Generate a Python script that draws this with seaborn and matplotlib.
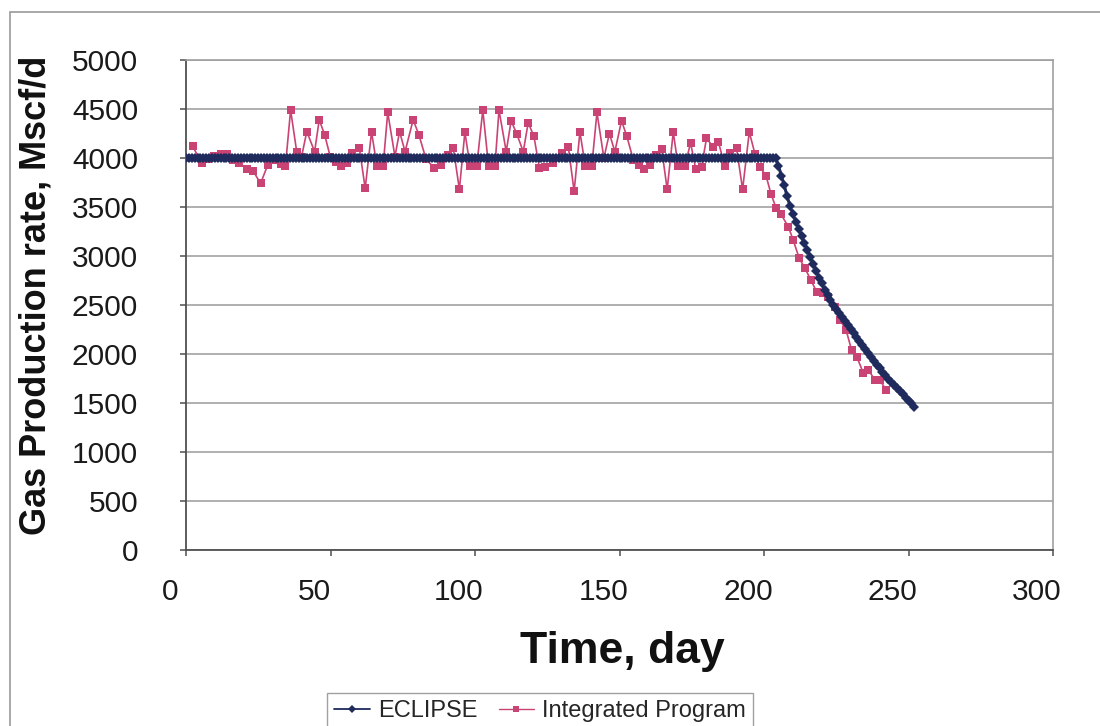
import matplotlib
matplotlib.use("Agg")
import matplotlib.pyplot as plt
import matplotlib.transforms as mtransforms
from matplotlib.patches import Rectangle
from matplotlib.lines import Line2D
import seaborn as sns
import pandas as pd

# ---- data -------------------------------------------------------------
# ECLIPSE simulation: daily gas rate (Mscf/d)
eclipse_days = list(range(0, 253))
eclipse_plateau = [4000] * 205
eclipse_decline = [
    3920, 3820, 3720, 3610, 3510, 3430, 3350, 3280, 3200, 3130,
    3060, 2990, 2920, 2850, 2780, 2720, 2655, 2600, 2550, 2500,
    2460, 2420, 2375, 2335, 2295, 2255, 2215, 2175, 2135, 2095,
    2050, 2010, 1965, 1925, 1890, 1855, 1820, 1785, 1750, 1715,
    1685, 1650, 1620, 1590, 1555, 1525, 1495, 1462,
]
eclipse_rate = eclipse_plateau + eclipse_decline

# Integrated program results
integrated_days = [
    2.3, 5.4, 7.5, 9.6, 12.0, 14.2, 16.4, 18.5, 21.0, 23.2,
    25.8, 28.3, 30.6, 32.8, 34.4, 36.2, 38.3, 40.0, 41.8, 44.5,
    46.1, 48.0, 49.9, 51.8, 53.8, 55.6, 57.4, 60.0, 62.0, 64.2,
    66.1, 68.2, 69.8, 72.3, 73.9, 75.8, 78.6, 80.6, 83.1, 85.9,
    88.3, 90.6, 92.5, 94.6, 96.5, 98.3, 100.6, 102.7, 104.7, 106.9,
    108.3, 110.8, 112.5, 114.4, 116.7, 118.4, 120.4, 122.3, 124.2, 127.1,
    130.0, 132.3, 134.3, 136.3, 138.2, 140.4, 142.2, 144.6, 146.5, 148.4,
    150.7, 152.5, 154.8, 156.9, 158.6, 160.6, 162.6, 164.6, 166.5, 168.6,
    170.3, 172.6, 174.6, 176.4, 178.4, 180.1, 182.4, 184.2, 186.5, 188.2,
    190.5, 192.6, 194.9, 196.9, 198.6, 200.7, 202.4, 204.2, 205.8, 208.4,
    210.1, 212.2, 214.2, 216.2, 218.2, 220.5, 222.3, 224.6, 226.3, 228.4,
    230.3, 232.1, 234.4, 236.1, 238.4, 240.1, 242.2,
]
integrated_rate = [
    4120, 3950, 3990, 4020, 4040, 4040, 3980, 3950, 3890, 3870,
    3740, 3930, 3975, 3940, 3915, 4490, 4065, 4015, 4270, 4065,
    4390, 4235, 4015, 3960, 3915, 3950, 4050, 4100, 3690, 4265,
    3915, 3915, 4465, 4015, 4270, 4065, 4390, 4235, 3985, 3900,
    3930, 4030, 4100, 3680, 4265, 3915, 3915, 4490, 3915, 3915,
    4490, 4065, 4380, 4250, 4065, 4360, 4220, 3895, 3910, 3950,
    4050, 4110, 3660, 4265, 3915, 3915, 4465, 4000, 4250, 4065,
    4380, 4225, 3980, 3930, 3885, 3930, 4030, 4090, 3680, 4265,
    3915, 3915, 4155, 3885, 3912, 4200, 4115, 4165, 3915, 4050,
    4100, 3680, 4265, 4040, 3905, 3820, 3635, 3488, 3429, 3300,
    3163, 2976, 2874, 2755, 2636, 2619, 2585, 2483, 2347, 2245,
    2041, 1973, 1803, 1837, 1735, 1735, 1633,
]

x_ticks = [0, 50, 100, 150, 200, 250, 300]
y_ticks = [0, 500, 1000, 1500, 2000, 2500, 3000, 3500, 4000, 4500, 5000]

series_names = ["ECLIPSE", "Integrated Program"]
x_label = "Time, day"
y_label = "Gas Production rate, Mscf/d"

# ---- style ------------------------------------------------------------
sns.set_theme(style="white")
plt.rcParams["font.family"] = ["Liberation Sans", "DejaVu Sans"]

NAVY = "#1e2b5c"
PINK = "#c94474"

eclipse_df = pd.DataFrame({"day": eclipse_days, "rate": eclipse_rate})
integrated_df = pd.DataFrame({"day": integrated_days, "rate": integrated_rate})

W, H = 1100, 726
fig = plt.figure(figsize=(W / 100, H / 100), dpi=100)
fig.patch.set_facecolor("white")
ax = fig.add_axes([186 / W, 1 - 550 / H, (1053 - 186) / W, (550 - 60) / H])

sns.lineplot(data=integrated_df, x="day", y="rate", ax=ax, color=PINK,
             linewidth=1.2, marker="s", markersize=6, markeredgewidth=0,
             markerfacecolor=PINK, sort=False, zorder=3)
sns.lineplot(data=eclipse_df, x="day", y="rate", ax=ax, color=NAVY,
             linewidth=2.2, marker="D", markersize=5, markeredgewidth=0,
             markerfacecolor=NAVY, sort=False, zorder=4)

ax.set_xlim(0, 300)
ax.set_ylim(0, 5000)
ax.set_xticks(x_ticks)
ax.set_yticks(y_ticks)
ax.set_xticklabels([str(v) for v in x_ticks])
ax.set_yticklabels([str(v) for v in y_ticks])

# horizontal gridlines only
ax.yaxis.grid(True, color="#9a9a9a", linewidth=1.1)
ax.xaxis.grid(False)
ax.set_axisbelow(True)

for side in ("top", "right"):
    ax.spines[side].set_color("#a0a0a0")
    ax.spines[side].set_linewidth(1.2)
for side in ("left", "bottom"):
    ax.spines[side].set_color("#505050")
    ax.spines[side].set_linewidth(1.3)

ax.tick_params(axis="x", which="major", direction="out", length=4.5,
               width=1.1, color="#505050", labelsize=21.5, pad=16,
               labelcolor="#1a1a1a", bottom=True)
ax.tick_params(axis="y", which="major", direction="out", length=4.5,
               width=1.1, color="#505050", labelsize=21.5, pad=30,
               labelcolor="#1a1a1a", left=True)

# x tick labels sit slightly left of their ticks
shift = mtransforms.ScaledTranslation(-16 / 100, 0, fig.dpi_scale_trans)
for lbl in ax.get_xticklabels():
    lbl.set_transform(lbl.get_transform() + shift)

ax.set_xlabel(x_label, fontsize=32, fontweight="bold", color="#111111")
ax.set_ylabel(y_label, fontsize=26, fontweight="bold", color="#111111")
ax.xaxis.set_label_coords(0.503, -0.165)
ax.yaxis.set_label_coords(-0.153, 0.52)

# legend below the axis title
handles = [
    Line2D([], [], color=NAVY, linewidth=1.3, marker="D", markersize=4,
           markeredgewidth=0),
    Line2D([], [], color=PINK, linewidth=1.0, marker="s", markersize=5,
           markeredgewidth=0),
]
leg = fig.legend(handles, series_names, loc="upper left",
                 bbox_to_anchor=(327 / W, 1 - 693 / H), ncol=2,
                 fontsize=17, frameon=True, fancybox=False,
                 edgecolor="#8a8a8a", handlelength=1.5, handletextpad=0.35,
                 columnspacing=0.9, borderpad=0.3, borderaxespad=0)
leg.get_frame().set_linewidth(1.0)

# chart-area border
fig.patches.append(Rectangle((10 / W, -0.1), 1.2, 1 - 12 / H + 0.1,
                             transform=fig.transFigure, fill=False,
                             edgecolor="#9a9a9a", linewidth=1.2))

fig.savefig("out.png", dpi=100, facecolor="white")
